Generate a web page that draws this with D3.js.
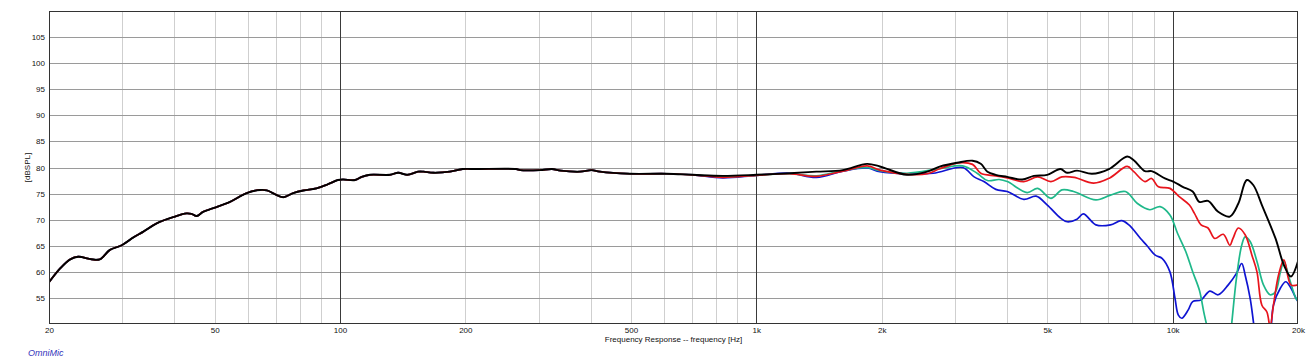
<!DOCTYPE html>
<html>
<head>
<meta charset="utf-8">
<script src="https://cdn.jsdelivr.net/npm/d3@7"></script>
<style>
  html, body { margin: 0; padding: 0; background: #fff; }
  svg { display: block; }
  text { font-family: "Liberation Sans", Arial, Helvetica, sans-serif; }
</style>
</head>
<body>
<svg id="chart" width="1311" height="361"></svg>
<script>
// ---- data (frequency in Hz, level in dBSPL) ----
const xTicks = [20, 50, 100, 200, 500, 1000, 2000, 5000, 10000, 20000];
const xTickLabels = ["20", "50", "100", "200", "500", "1k", "2k", "5k", "10k", "20k"];
const yTicks = [55, 60, 65, 70, 75, 80, 85, 90, 95, 100, 105];
const majorLines = [100, 1000, 10000];

// shared low-frequency part (all four curves coincide)
const lowFreq = [20, 21.3, 22.5, 23.5, 25.3, 26.5, 28, 29.9, 31.9, 33.7, 36.3, 39.8, 42.8, 44, 45.3, 46.9, 49.6, 54.4, 59.7, 64.3, 66.8, 70.5, 73.1, 77.2, 81.7, 87.8, 93.6, 98.9, 101.8, 108.7, 112.8, 118, 131.8, 138, 145, 154, 158.7, 167.6, 183.6, 197, 213, 265, 271, 302, 323, 339, 377, 402, 421, 497, 608];
const lowDb = [58.0, 60.7, 62.4, 62.9, 62.4, 62.4, 64.2, 65.1, 66.6, 67.7, 69.3, 70.5, 71.2, 71.1, 70.7, 71.5, 72.2, 73.4, 75.1, 75.7, 75.6, 74.7, 74.3, 75.1, 75.6, 76.0, 76.8, 77.6, 77.7, 77.6, 78.2, 78.6, 78.6, 79.0, 78.6, 79.2, 79.2, 79.0, 79.2, 79.7, 79.7, 79.7, 79.5, 79.5, 79.7, 79.4, 79.2, 79.5, 79.2, 78.8, 78.8];

const blackFreq = [704, 830, 1000, 1202, 1394, 1614, 1845, 1980, 2300, 2572, 2766, 3036, 3306, 3460, 3590, 3758, 4006, 4352, 4640, 4996, 5376, 5577, 5892, 6400, 7030, 7776, 8065, 8580, 8900, 9580, 10030, 10570, 11170, 11590, 12160, 12860, 13720, 14380, 15070, 15630, 16380, 17660, 18500, 19230, 20000];
const blackDb = [78.6, 78.4, 78.6, 78.9, 79.2, 79.5, 80.7, 80.2, 78.6, 79.2, 80.2, 80.9, 81.3, 80.7, 79.2, 78.6, 78.2, 77.7, 78.4, 78.6, 79.7, 79.0, 79.4, 78.8, 79.7, 82.1, 81.4, 79.3, 79.3, 77.9, 77.3, 76.3, 75.4, 73.4, 73.6, 71.5, 70.6, 73.1, 77.6, 76.6, 72.8, 66.4, 61.3, 59.1, 62.0];

const redFreq = [704, 830, 1000, 1202, 1394, 1614, 1845, 1980, 2300, 2572, 2766, 3050, 3306, 3460, 3758, 4006, 4390, 4740, 5100, 5420, 5800, 6460, 7060, 7776, 8065, 8580, 8900, 9240, 9850, 10370, 10970, 11280, 11700, 12160, 12620, 13230, 13720, 13960, 14380, 14930, 15500, 15940, 16380, 16840, 17140, 17460, 17960, 18500, 19230, 20000];
const redDb = [78.6, 78.1, 78.5, 78.8, 78.3, 79.3, 80.3, 79.5, 78.7, 78.8, 79.8, 80.9, 80.6, 78.9, 78.4, 78.0, 77.3, 78.2, 77.3, 78.2, 78.1, 77.0, 78.0, 80.2, 79.2, 77.3, 77.9, 76.3, 76.0, 74.4, 72.8, 71.2, 69.0, 68.4, 66.4, 67.2, 65.1, 66.4, 68.4, 67.1, 63.2, 60.0, 53.6, 52.3, 49.5, 53.6, 59.4, 62.3, 57.5, 57.5];

const greenFreq = [704, 830, 1000, 1202, 1394, 1614, 1845, 1980, 2300, 2766, 3130, 3390, 3590, 3830, 4006, 4470, 4740, 5100, 5420, 5780, 6540, 7090, 7700, 8230, 8810, 9330, 9850, 10270, 10750, 11170, 11590, 11920, 12400, 13000, 13600, 13850, 14230, 14650, 14930, 15350, 15940, 16520, 17140, 17660, 18150, 18500, 19050, 19780, 20000];
const greenDb = [78.6, 78.2, 78.5, 78.8, 78.4, 79.4, 80.0, 79.4, 78.9, 79.8, 80.3, 78.9, 77.5, 77.7, 77.3, 75.2, 76.0, 74.1, 75.7, 75.4, 73.8, 74.7, 75.4, 73.1, 71.9, 72.5, 70.9, 67.4, 63.9, 60.0, 56.5, 51.7, 46.0, 40.0, 44.0, 49.8, 58.8, 65.1, 66.7, 65.8, 62.0, 57.5, 55.6, 56.2, 60.0, 62.0, 58.8, 54.9, 54.5];

const blueFreq = [704, 830, 1000, 1202, 1394, 1614, 1845, 1980, 2300, 2660, 3130, 3335, 3520, 3760, 4006, 4390, 4700, 5000, 5380, 5580, 5890, 6100, 6400, 6540, 7090, 7530, 7850, 8370, 8660, 9080, 9430, 9850, 10130, 10320, 10520, 10900, 11170, 11700, 12280, 12860, 13600, 14230, 14650, 14930, 15350, 15630, 16000, 16800, 17200, 17460, 18150, 18690, 19230, 19780, 20000];
const blueDb = [78.6, 78.0, 78.5, 78.9, 78.1, 79.3, 79.9, 79.2, 78.8, 78.9, 80.0, 78.2, 77.3, 75.8, 75.4, 73.9, 74.5, 72.8, 70.3, 69.6, 70.1, 71.1, 69.6, 69.0, 69.0, 69.8, 69.0, 66.4, 65.1, 63.2, 62.6, 60.0, 54.9, 51.7, 51.1, 52.7, 54.3, 54.6, 56.3, 55.6, 57.5, 59.7, 61.6, 59.4, 54.9, 50.4, 44.0, 42.0, 48.0, 53.6, 56.9, 58.1, 56.9, 54.9, 54.3];

// ---- drawing ----
const svg = d3.select("#chart");
const L = 49, R = 1298, T = 11, B = 324;
const x = d3.scaleLog().domain([20, 20000]).range([L, R]);
const y = d3.scaleLinear().domain([50, 110]).range([B, T]);

// minor vertical grid
const minor = x.ticks().filter(f => f > 20 && f < 20000 && !majorLines.includes(f));
svg.append("g").selectAll("line").data(minor).join("line")
  .attr("x1", d => Math.round(x(d)) + 0.5).attr("x2", d => Math.round(x(d)) + 0.5)
  .attr("y1", T).attr("y2", B)
  .attr("stroke", "#cfcfcf").attr("stroke-width", 1);

// horizontal grid
svg.append("g").selectAll("line").data(yTicks).join("line")
  .attr("x1", L).attr("x2", R)
  .attr("y1", d => Math.round(y(d)) + 0.5).attr("y2", d => Math.round(y(d)) + 0.5)
  .attr("stroke", "#9a9a9a").attr("stroke-width", 1);

// major vertical lines
svg.append("g").selectAll("line").data(majorLines).join("line")
  .attr("x1", d => Math.round(x(d)) + 0.5).attr("x2", d => Math.round(x(d)) + 0.5)
  .attr("y1", T).attr("y2", B)
  .attr("stroke", "#3a3a3a").attr("stroke-width", 1);

// clip
svg.append("clipPath").attr("id", "plotclip").append("rect")
  .attr("x", L).attr("y", T).attr("width", R - L).attr("height", B - T);

const line = d3.line()
  .x(d => x(d[0])).y(d => y(d[1]))
  .curve(d3.curveCatmullRom.alpha(0.5));

function series(fs, ds) {
  return lowFreq.map((f, i) => [f, lowDb[i]]).concat(fs.map((f, i) => [f, ds[i]]));
}
const curves = [
  { pts: series(blueFreq, blueDb), color: "#0f14d2", w: 1.7 },
  { pts: series(greenFreq, greenDb), color: "#1fb88a", w: 1.7 },
  { pts: series(redFreq, redDb), color: "#e8141c", w: 1.7 },
  { pts: series(blackFreq, blackDb), color: "#000000", w: 1.9 }
];
const gC = svg.append("g").attr("clip-path", "url(#plotclip)");
gC.selectAll("path").data(curves).join("path")
  .attr("d", d => line(d.pts))
  .attr("fill", "none")
  .attr("stroke", d => d.color)
  .attr("stroke-width", d => d.w)
  .attr("stroke-linejoin", "round");

// frame
svg.append("rect").attr("x", L + 0.5).attr("y", T + 0.5)
  .attr("width", R - L - 1).attr("height", B - T - 1)
  .attr("fill", "none").attr("stroke", "#333").attr("stroke-width", 1);

// axes (labels only)
const xAxis = d3.axisBottom(x).tickValues(xTicks)
  .tickFormat((d, i) => xTickLabels[i]).tickSize(0).tickPadding(3);
const gx = svg.append("g").attr("transform", `translate(0,${B})`).call(xAxis);
gx.select(".domain").remove();
gx.selectAll("text").attr("font-size", 8).attr("fill", "#111")
  .attr("font-family", "'Liberation Sans', Arial, sans-serif");

const yAxis = d3.axisLeft(y).tickValues(yTicks).tickSize(0).tickPadding(4);
const gy = svg.append("g").attr("transform", `translate(${L},0)`).call(yAxis);
gy.select(".domain").remove();
gy.selectAll("text").attr("font-size", 8).attr("fill", "#111")
  .attr("font-family", "'Liberation Sans', Arial, sans-serif");

// titles
svg.append("text").attr("x", (L + R) / 2).attr("y", 342)
  .attr("text-anchor", "middle").attr("font-size", 8).attr("fill", "#111")
  .text("Frequency Response -- frequency [Hz]");
svg.append("text").attr("transform", `translate(30,${(T + B) / 2}) rotate(-90)`)
  .attr("text-anchor", "middle").attr("font-size", 8).attr("fill", "#111")
  .text("[dBSPL]");
svg.append("text").attr("x", 28).attr("y", 356)
  .attr("font-size", 9).attr("font-style", "italic").attr("fill", "#3333bb")
  .text("OmniMic");
</script>
</body>
</html>
